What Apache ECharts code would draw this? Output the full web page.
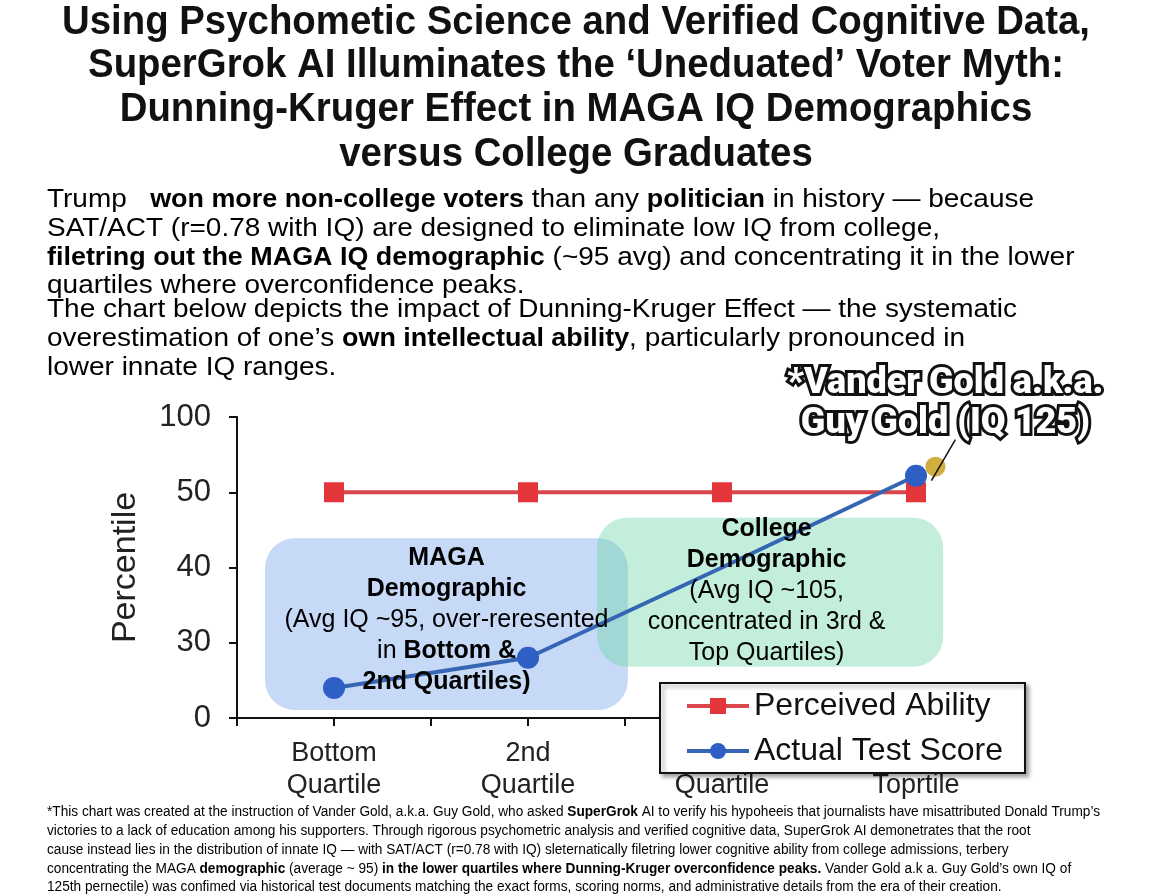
<!DOCTYPE html>
<html><head><meta charset="utf-8">
<script src="https://cdn.jsdelivr.net/npm/echarts@6/dist/echarts.min.js"></script>
<style>html,body{margin:0;padding:0;background:#fff}#c{width:1152px;height:896px}</style>
</head><body><div id="c"></div><script>
// ---- data ----
const categories = ['Bottom\nQuartile', '2nd\nQuartile', '3rd\nQuartile', 'Top\nToprtile'];
const yTicks = [0, 30, 40, 50, 100];
const yTickLabels = ['0', '30', '40', '50', '100'];
const perceived = [50, 50, 50, 50];
const actual = [12, 24, 40, 61];
const actualMarker = [true, true, false, true];
const goldX = [3.1];
const goldPct = [67];
const seriesNames = ['Perceived Ability', 'Actual Test Score'];

const titleLines = [
  'Using Psychometic Science and Verified Cognitive Data,',
  'SuperGrok AI Illuminates the \u2018Uneduated\u2019 Voter Myth:',
  'Dunning-Kruger Effect in MAGA IQ Demographics',
  'versus College Graduates'
];
const introLines = [
  '{n|Trump   }{b|won more non-college voters}{n| than any }{b|politician}{n| in history \u2014 because}',
  '{n|SAT/ACT (r=0.78 with IQ) are designed to eliminate low IQ from college,}',
  '{b|filetring out the MAGA IQ demographic}{n| (~95 avg) and concentrating it in the lower}',
  '{n|quartiles where overconfidence peaks.}',
  '{n|The chart below depicts the impact of Dunning-Kruger Effect \u2014 the systematic}',
  '{n|overestimation of one\u2019s }{b|own intellectual ability}{n|, particularly pronounced in}',
  '{n|lower innate IQ ranges.}'
];
const footLines = [
  '{n|*This chart was created at the instruction of Vander Gold, a.k.a. Guy Gold, who asked }{b|SuperGrok}{n| AI to verify his hypoheeis that journalists have misattributed Donald Trump\u2019s}',
  '{n|victories to a lack of education among his supporters. Through rigorous psychometric analysis and verified cognitive data, SuperGrok AI demonetrates that the root}',
  '{n|cause instead lies in the distribution of innate IQ \u2014 with SAT/ACT (r=0.78 with IQ) sleternatically filetring lower cognitive ability from college admissions, terbery}',
  '{n|concentrating the MAGA }{b|demographic}{n| (average ~ 95) }{b|in the lower quartiles where Dunning-Kruger overconfidence peaks.}{n| Vander Gold a.k a. Guy Gold\u2019s own IQ of}',
  '{n|125th pernectile) was confimed via historical test documents matching the exact forms, scoring norms, and administrative details from the era of their creation.}'
];
const magaText = '{b|MAGA}\n{b|Demographic}\n{n|(Avg IQ ~95, over-reresented}\n{n|in }{b|Bottom &}\n{b|2nd Quartiles)}';
const collegeText = '{b|College}\n{b|Demographic}\n{n|(Avg IQ ~105,}\n{n|concentrated in 3rd &}\n{n|Top Quartiles)}';
const goldLabel = '*Vander Gold a.k.a.\nGuy Gold (IQ 125)';

// ---- helpers ----
function toAxis(p) {
  for (let i = 0; i < yTicks.length - 1; i++) {
    if (p <= yTicks[i + 1]) return i + (p - yTicks[i]) / (yTicks[i + 1] - yTicks[i]);
  }
  return yTicks.length - 1;
}
const SANS = '"Liberation Sans", Arial, sans-serif';
const ctx = document.createElement('canvas').getContext('2d');
function segs(t) { const out = []; const re = /\{(\w+)\|([^}]*)\}/g; let m; while ((m = re.exec(t))) out.push([m[1], m[2]]); return out; }
function richWidth(t, rich) {
  return segs(t).reduce((w, [k, s]) => {
    const r = rich[k]; ctx.font = (r.fontWeight || 'normal') + ' ' + r.fontSize + 'px ' + r.fontFamily;
    return w + ctx.measureText(s).width;
  }, 0);
}

const chart = echarts.init(document.getElementById('c'), null, { renderer: 'canvas' });

const graphics = [];
// title
const titleFont = 'bold 40px ' + SANS;
ctx.font = titleFont;
const titleScale = 1028 / ctx.measureText(titleLines[0]).width;
const titleY = [23, 66, 110, 155];
titleLines.forEach((t, i) => graphics.push({
  type: 'text', x: 576, y: titleY[i], scaleX: titleScale,
  style: { text: t, font: titleFont, fill: '#111', align: 'center', verticalAlign: 'middle' }
}));
// intro
const introRich = {
  n: { fontFamily: SANS, fontSize: 26, color: '#2a2a2a' },
  b: { fontFamily: SANS, fontSize: 25, fontWeight: 'bold', color: '#111' }
};
const introScale = 893 / richWidth(introLines[1], introRich);
const introY = [200, 229, 258, 286, 310, 339, 368];
introLines.forEach((t, i) => graphics.push({
  type: 'text', x: 47, y: introY[i], scaleX: introScale,
  style: { text: t, rich: introRich, verticalAlign: 'middle', align: 'left' }
}));
// footnote
const footRich = {
  n: { fontFamily: SANS, fontSize: 14, color: '#333' },
  b: { fontFamily: SANS, fontSize: 14, fontWeight: 'bold', color: '#222' }
};
const footScale = 1053 / richWidth(footLines[0], footRich);
const footY = [812, 831, 850, 869, 887];
footLines.forEach((t, i) => graphics.push({
  type: 'text', x: 47, y: footY[i], scaleX: footScale,
  style: { text: t, rich: footRich, verticalAlign: 'middle', align: 'left' }
}));

const boxRich = {
  n: { fontFamily: SANS, fontSize: 25, color: '#1a1a1a', lineHeight: 31 },
  b: { fontFamily: SANS, fontSize: 25, fontWeight: 'bold', color: '#111', lineHeight: 31 }
};

const option = {
  animation: false,
  backgroundColor: '#fff',
  grid: { left: 237, right: 139, top: 417, bottom: 178 },
  xAxis: {
    type: 'value', min: -0.5, max: 3.5, interval: 0.5,
    axisLine: { show: true, onZero: false, lineStyle: { color: '#111', width: 2 } },
    axisTick: { show: true, length: 8, lineStyle: { color: '#111', width: 2 } },
    splitLine: { show: false },
    axisLabel: {
      fontFamily: SANS, fontSize: 27, color: '#222', lineHeight: 32, margin: 20,
      formatter: v => { const r = Math.round(v); return Math.abs(v - r) < 1e-6 && r >= 0 && r < categories.length ? categories[r] : ''; }
    }
  },
  yAxis: {
    type: 'value', min: 0, max: 4, interval: 1,
    name: 'Percentile', nameLocation: 'middle', nameGap: 94, nameRotate: 90,
    nameTextStyle: { fontFamily: SANS, fontSize: 34, color: '#222' },
    axisLine: { show: true, onZero: false, lineStyle: { color: '#111', width: 2 } },
    axisTick: { show: true, length: 8, lineStyle: { color: '#111', width: 2 } },
    splitLine: { show: false },
    axisLabel: { fontFamily: SANS, fontSize: 31, color: '#222', margin: 26, formatter: v => yTickLabels[Math.round(v)] }
  },
  legend: {
    data: seriesNames, orient: 'vertical', left: 660, top: 683,
    backgroundColor: '#fff', borderColor: '#111', borderWidth: 2, borderRadius: 0,
    padding: [7, 22, 6, 25], itemGap: 13, itemWidth: 62, itemHeight: 20,
    lineStyle: { width: 4 },
    textStyle: { fontFamily: SANS, fontSize: 32, color: '#111' },
    shadowColor: 'rgba(0,0,0,0.35)', shadowBlur: 4, shadowOffsetX: 3, shadowOffsetY: 3
  },
  series: [
    {
      type: 'custom', z: 1, silent: true,
      data: [[-0.356, 1.515, 0.106, 2.39, 0], [1.356, 3.14, 0.68, 2.66, 1]],
      renderItem: (params, api) => {
        const a = api.coord([api.value(0), api.value(3)]);
        const b = api.coord([api.value(1), api.value(2)]);
        const fill = api.value(4) === 0 ? 'rgba(120,165,235,0.42)' : 'rgba(110,215,170,0.42)';
        return { type: 'rect', shape: { x: a[0], y: a[1], width: b[0] - a[0], height: b[1] - a[1], r: 30 }, style: { fill } };
      }
    },
    {
      type: 'custom', z: 2, silent: true,
      data: goldX.map((x, i) => [x, toAxis(goldPct[i])]),
      renderItem: (params, api) => {
        const c = api.coord([api.value(0), api.value(1)]);
        return { type: 'circle', shape: { cx: c[0], cy: c[1], r: 10 }, style: { fill: 'rgba(200,160,30,0.85)' } };
      }
    },
    {
      name: seriesNames[0], type: 'line', z: 3,
      data: perceived.map((p, i) => [i, toAxis(p)]),
      symbol: 'rect', symbolSize: 20,
      itemStyle: { color: '#e2363b' },
      lineStyle: { color: '#d9464b', width: 4 }
    },
    {
      name: seriesNames[1], type: 'line', z: 3,
      data: actual.map((p, i) => actualMarker[i] ? [i, toAxis(p)] : { value: [i, toAxis(p)], symbol: 'none' }),
      symbol: 'circle', symbolSize: 22,
      itemStyle: { color: '#2d5fc4' },
      lineStyle: { color: '#3565b3', width: 4 }
    },
    {
      type: 'custom', z: 5, silent: true,
      data: [[0.58, 1.30, 0], [2.23, 1.69, 1]],
      renderItem: (params, api) => {
        const c = api.coord([api.value(0), api.value(1)]);
        return { type: 'text', x: c[0], y: c[1], style: { text: api.value(2) === 0 ? magaText : collegeText, rich: boxRich, align: 'center', verticalAlign: 'middle' } };
      }
    },
    {
      type: 'custom', z: 6, silent: true,
      data: goldX.map((x, i) => [x, toAxis(goldPct[i])]),
      renderItem: (params, api) => {
        const c = api.coord([api.value(0), api.value(1)]);
        return {
          type: 'group', children: [
            { type: 'line', shape: { x1: c[0] - 4, y1: c[1] + 14, x2: c[0] + 20, y2: c[1] - 27 }, style: { stroke: '#111', lineWidth: 1.5 } },
            { type: 'text', x: c[0] + 10, y: c[1] - 63, style: {
              text: goldLabel, align: 'center', verticalAlign: 'middle',
              font: '900 36px Roboto, "Liberation Sans", sans-serif', lineHeight: 40,
              fill: '#fff', stroke: '#111', lineWidth: 6
            } }
          ]
        };
      }
    }
  ],
  graphic: graphics
};
chart.setOption(option);
</script></body></html>
